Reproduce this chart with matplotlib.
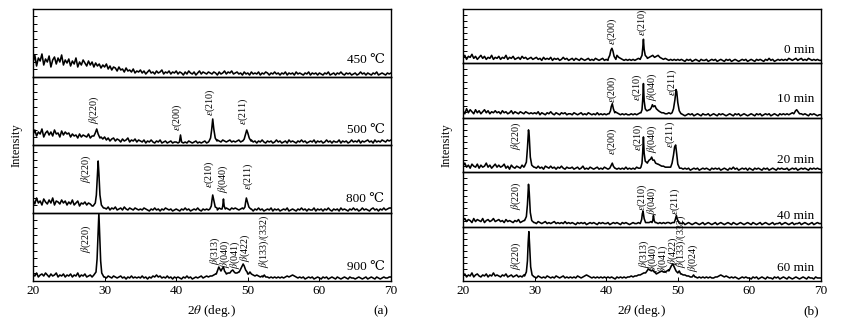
import numpy as np
import matplotlib
matplotlib.use("Agg")
import matplotlib.pyplot as plt

plt.rcParams['font.family'] = ['Liberation Serif', 'DejaVu Serif']
plt.rcParams['mathtext.fontset'] = 'stix'

# ---------------- data ----------------
x_min, x_max = 20, 70
x_grid = np.linspace(x_min, x_max, 201)   # 0.25 deg sampling of the background

# ---- (a) annealing temperature ----
bg_450 = [
    14, 22, 11, 19, 16, 23, 12, 18, 15, 21, 10, 17, 20, 13, 19, 15, 22, 12, 17, 14,
    18, 11, 16, 13, 19, 10, 15, 12, 17, 14, 11, 16, 12, 15, 10, 14, 11, 13, 9, 12,
    10, 13, 8, 11, 7, 10, 9, 6, 10, 7, 8, 5, 9, 6, 7, 5, 8, 4, 6, 5,
    7, 4, 6, 3, 5, 7, 4, 5, 3, 6, 4, 5, 7, 3, 5, 4, 6, 3, 5, 4,
    6, 3, 5, 4, 2, 5, 3, 6, 4, 3, 5, 2, 4, 6, 3, 5, 4, 3, 5, 4,
    3, 5, 4, 2, 5, 3, 4, 6, 3, 5, 4, 6, 3, 4, 5, 3, 4, 2, 5, 3,
    4, 2, 5, 3, 4, 3, 5, 2, 4, 3, 5, 4, 2, 4, 3, 5, 3, 4, 2, 4,
    3, 5, 2, 4, 3, 4, 2, 5, 3, 4, 3, 2, 4, 3, 5, 2, 4, 3, 4, 2,
    4, 3, 2, 4, 3, 5, 2, 3, 4, 2, 4, 3, 5, 3, 2, 4, 3, 4, 2, 3,
    4, 2, 3, 5, 3, 4, 2, 4, 3, 2, 4, 3, 5, 2, 3, 4, 3, 2, 4, 3,
    4]
bg_500 = [
    10, 15, 9, 13, 11, 16, 8, 12, 14, 10, 13, 9, 15, 11, 12, 8, 14, 10, 13, 11,
    12, 8, 11, 9, 10, 7, 11, 8, 10, 9, 8, 11, 7, 9, 8, 10, 9, 7, 8, 6,
    8, 5, 7, 4, 6, 7, 4, 6, 5, 3, 6, 4, 5, 7, 3, 5, 4, 6, 3, 5,
    4, 3, 5, 2, 4, 3, 5, 3, 2, 4, 3, 5, 2, 3, 4, 2, 3, 4, 2, 3,
    3, 2, 4, 3, 2, 3, 2, 4, 3, 2, 3, 4, 2, 3, 2, 3, 4, 2, 3, 3,
    3, 4, 3, 5, 4, 3, 5, 4, 3, 4, 5, 3, 4, 3, 4, 5, 3, 4, 4, 3,
    4, 3, 5, 3, 4, 2, 4, 3, 5, 3, 2, 4, 3, 4, 2, 3, 5, 3, 4, 2,
    3, 4, 2, 5, 3, 4, 3, 2, 4, 3, 5, 3, 4, 2, 3, 4, 3, 5, 2, 4,
    3, 4, 2, 3, 5, 3, 4, 2, 4, 3, 3, 5, 2, 4, 3, 4, 2, 3, 5, 3,
    4, 3, 5, 2, 4, 3, 4, 5, 3, 4, 2, 5, 3, 4, 3, 5, 4, 3, 5, 4,
    5]
bg_800 = [
    13, 9, 15, 10, 12, 8, 14, 11, 9, 13, 10, 15, 8, 12, 11, 9, 13, 10, 12, 8,
    11, 9, 13, 8, 10, 12, 7, 10, 9, 11, 8, 10, 9, 7, 10, 8, 9, 6, 5, 6,
    5, 4, 6, 3, 5, 4, 6, 3, 4, 5, 3, 6, 4, 3, 5, 4, 3, 5, 4, 3,
    4, 3, 5, 4, 3, 2, 4, 3, 5, 3, 4, 2, 4, 3, 5, 4, 3, 4, 2, 3,
    4, 3, 2, 4, 3, 5, 3, 4, 2, 3, 4, 3, 5, 3, 2, 4, 3, 4, 3, 4,
    4, 5, 4, 3, 5, 4, 3, 4, 5, 4, 3, 5, 4, 5, 4, 3, 4, 5, 4, 4,
    5, 3, 4, 2, 4, 3, 5, 3, 4, 2, 3, 4, 3, 5, 2, 4, 3, 4, 2, 3,
    4, 3, 5, 2, 3, 4, 3, 2, 4, 3, 5, 3, 4, 2, 4, 3, 3, 5, 2, 4,
    3, 4, 2, 4, 3, 5, 3, 2, 4, 3, 4, 2, 5, 3, 4, 3, 2, 4, 3, 5,
    3, 4, 2, 3, 5, 3, 4, 3, 2, 4, 5, 3, 4, 2, 4, 3, 5, 3, 4, 5,
    5]
bg_900 = [
    7, 5, 8, 4, 6, 7, 5, 8, 6, 4, 7, 5, 6, 8, 4, 6, 5, 7, 4, 6,
    5, 7, 4, 6, 5, 8, 4, 6, 5, 7, 4, 5, 6, 4, 7, 5, 6, 4, 5, 6,
    4, 3, 5, 4, 3, 5, 4, 3, 4, 5, 3, 4, 2, 4, 3, 5, 3, 4, 3, 4,
    3, 5, 3, 4, 2, 4, 3, 5, 4, 6, 4, 5, 3, 4, 3, 5, 3, 4, 2, 4,
    3, 4, 3, 2, 4, 3, 5, 3, 4, 2, 3, 4, 3, 4, 5, 3, 4, 5, 4, 5,
    5, 6, 7, 8, 8, 9, 8, 7, 7, 8, 8, 9, 9, 8, 8, 9, 10, 9, 8, 7,
    7, 6, 7, 6, 5, 6, 5, 4, 5, 4, 5, 4, 3, 4, 3, 4, 3, 4, 3, 4,
    3, 4, 5, 4, 5, 6, 5, 4, 3, 4, 3, 4, 2, 3, 4, 3, 4, 2, 3, 4,
    3, 2, 4, 3, 4, 2, 3, 4, 3, 2, 4, 3, 2, 3, 4, 3, 2, 4, 3, 3,
    2, 3, 4, 3, 2, 3, 4, 2, 3, 4, 3, 2, 4, 3, 2, 3, 4, 3, 3, 4,
    4]

# peaks: (2theta vertices, intensity vertices)
pk_450 = []
pk_500 = [
    ([28.5, 28.7, 28.9, 29.1, 29.35], [9, 12, 16, 11, 7]),
    ([40.45, 40.6, 40.75], [3, 10, 3]),
    ([44.6, 44.8, 44.95, 45.1, 45.25, 45.45, 45.7], [4, 7, 15, 26, 16, 7, 4]),
    ([49.3, 49.5, 49.7, 49.85, 50.0, 50.2, 50.45], [4, 6, 11, 15, 12, 7, 4]),
]
pk_800 = [
    ([28.4, 28.7, 28.85, 29.0, 29.1, 29.2, 29.35, 29.55, 29.85], [7, 10, 18, 38, 52, 40, 18, 8, 5]),
    ([44.7, 44.9, 45.0, 45.1, 45.25, 45.45, 45.7], [4, 7, 13, 18, 13, 6, 5]),
    ([46.4, 46.5, 46.6, 46.7, 46.85], [4, 7, 14, 7, 4]),
    ([49.4, 49.6, 49.7, 49.8, 49.95, 50.15, 50.4], [4, 6, 11, 15, 11, 6, 4]),
]
pk_900 = [
    ([28.5, 28.8, 28.95, 29.1, 29.2, 29.3, 29.45, 29.6, 29.9], [6, 9, 22, 50, 68, 48, 20, 8, 4]),
    ([45.6, 45.8, 45.95, 46.1, 46.25, 46.4, 46.6, 46.75, 46.95], [7, 11, 14, 12, 10, 12, 14, 10, 8]),
    ([47.5, 47.7, 47.9, 48.1], [8, 10, 11, 9]),
    ([48.8, 49.0, 49.2, 49.35, 49.5, 49.7, 49.9], [9, 12, 15, 17, 15, 11, 9]),
    ([50.1, 50.3, 50.5], [7, 9, 7]),
    ([52.1, 52.3, 52.5], [4, 6, 4]),
]

# ---- (b) holding time ----
bg_0 = [
    5, 8, 4, 7, 6, 9, 5, 7, 4, 6, 8, 5, 7, 4, 6, 5, 8, 4, 6, 5,
    7, 4, 6, 5, 8, 4, 6, 5, 7, 4, 5, 6, 4, 7, 5, 6, 4, 5, 6, 4,
    5, 6, 4, 5, 3, 6, 4, 5, 4, 6, 3, 5, 4, 5, 3, 4, 6, 4, 5, 3,
    4, 5, 3, 5, 4, 3, 5, 4, 3, 4, 5, 3, 4, 3, 5, 4, 3, 4, 5, 3,
    4, 3, 5, 6, 8, 9, 8, 6, 5, 4, 3, 4, 3, 4, 3, 4, 3, 4, 5, 4,
    5, 6, 5, 5, 6, 7, 8, 6, 7, 8, 6, 5, 4, 5, 4, 3, 4, 3, 4, 3,
    4, 3, 4, 3, 2, 4, 3, 4, 2, 3, 4, 3, 2, 4, 3, 3, 4, 2, 3, 4,
    3, 4, 2, 3, 4, 3, 2, 4, 3, 4, 2, 3, 4, 3, 2, 3, 4, 3, 4, 2,
    3, 4, 3, 2, 4, 3, 4, 3, 2, 4, 3, 5, 3, 4, 2, 3, 4, 3, 4, 3,
    4, 3, 5, 4, 3, 4, 5, 3, 4, 5, 3, 4, 3, 5, 4, 3, 4, 3, 4, 3,
    3]
bg_10 = [
    7, 4, 9, 5, 8, 6, 4, 8, 5, 7, 4, 6, 8, 5, 7, 4, 6, 5, 7, 5,
    6, 4, 7, 5, 6, 4, 5, 7, 4, 6, 5, 4, 6, 5, 4, 6, 5, 4, 5, 4,
    5, 4, 6, 3, 5, 4, 3, 5, 4, 6, 4, 3, 5, 4, 3, 5, 4, 5, 3, 4,
    4, 3, 5, 4, 3, 4, 5, 3, 4, 3, 5, 4, 3, 4, 3, 5, 3, 4, 3, 4,
    3, 4, 3, 5, 4, 6, 5, 4, 3, 4, 3, 4, 3, 3, 4, 3, 4, 3, 4, 5,
    5, 6, 6, 7, 8, 9, 8, 7, 7, 6, 6, 5, 5, 4, 4, 5, 4, 4, 5, 5,
    4, 3, 4, 3, 2, 3, 4, 3, 4, 2, 3, 4, 3, 2, 4, 3, 3, 4, 2, 3,
    4, 3, 2, 4, 3, 4, 3, 2, 3, 4, 3, 2, 4, 3, 4, 2, 3, 4, 3, 2,
    3, 4, 3, 2, 4, 3, 4, 2, 3, 4, 3, 4, 2, 3, 4, 3, 2, 4, 3, 4,
    3, 4, 3, 4, 5, 6, 5, 6, 5, 4, 3, 4, 3, 2, 4, 3, 4, 3, 2, 3,
    3]
bg_20 = [
    6, 9, 5, 7, 4, 8, 6, 5, 8, 4, 7, 5, 6, 9, 5, 7, 4, 6, 8, 5,
    7, 5, 6, 8, 4, 6, 3, 7, 5, 4, 6, 5, 4, 7, 5, 6, 4, 5, 4, 5,
    5, 4, 6, 4, 5, 3, 6, 5, 4, 6, 4, 5, 3, 5, 4, 6, 4, 3, 5, 4,
    4, 5, 3, 4, 5, 3, 4, 6, 3, 4, 3, 5, 4, 3, 4, 5, 3, 4, 3, 5,
    4, 3, 5, 4, 3, 4, 3, 4, 3, 4, 3, 5, 3, 4, 3, 4, 3, 5, 4, 4,
    5, 6, 7, 9, 10, 11, 10, 9, 8, 8, 7, 6, 6, 5, 5, 5, 6, 6, 6, 6,
    5, 4, 4, 3, 4, 3, 4, 2, 3, 4, 3, 4, 2, 3, 4, 3, 4, 3, 2, 4,
    3, 4, 3, 4, 2, 3, 4, 3, 2, 4, 3, 5, 3, 4, 2, 3, 4, 3, 4, 2,
    4, 3, 2, 4, 3, 4, 3, 2, 4, 3, 4, 2, 3, 4, 3, 2, 4, 3, 4, 3,
    3, 4, 2, 3, 4, 3, 4, 2, 3, 4, 3, 4, 3, 2, 4, 3, 4, 3, 4, 3,
    3]
bg_40 = [
    6, 8, 5, 7, 6, 4, 8, 5, 7, 6, 5, 8, 4, 6, 7, 5, 6, 8, 5, 6,
    7, 5, 6, 4, 7, 5, 6, 5, 4, 6, 5, 7, 4, 5, 6, 4, 5, 5, 4, 5,
    4, 3, 5, 4, 3, 4, 5, 3, 4, 3, 4, 5, 3, 4, 3, 4, 3, 5, 3, 4,
    3, 4, 3, 2, 4, 3, 4, 3, 4, 2, 3, 4, 3, 4, 3, 2, 4, 3, 4, 3,
    3, 4, 2, 3, 4, 3, 4, 3, 2, 4, 3, 4, 3, 2, 3, 4, 3, 3, 4, 3,
    4, 4, 3, 4, 4, 5, 4, 3, 4, 3, 4, 3, 4, 3, 4, 4, 3, 4, 4, 4,
    4, 3, 3, 4, 2, 3, 4, 3, 2, 3, 4, 3, 2, 3, 4, 2, 3, 4, 3, 2,
    3, 4, 2, 3, 4, 3, 2, 3, 4, 3, 2, 4, 3, 2, 3, 4, 3, 2, 3, 4,
    3, 2, 4, 3, 2, 3, 4, 2, 3, 4, 3, 2, 3, 4, 2, 3, 3, 4, 2, 3,
    4, 3, 2, 3, 4, 2, 3, 3, 4, 2, 3, 4, 3, 2, 3, 4, 2, 3, 4, 3,
    3]
bg_60 = [
    5, 7, 4, 6, 5, 8, 4, 6, 7, 5, 4, 6, 5, 7, 4, 6, 5, 8, 5, 6,
    5, 4, 6, 5, 7, 4, 5, 6, 4, 5, 6, 4, 5, 4, 6, 5, 4, 5, 4, 5,
    4, 3, 5, 4, 3, 4, 3, 5, 4, 3, 4, 3, 5, 4, 3, 4, 5, 3, 4, 3,
    4, 3, 4, 3, 5, 4, 3, 4, 5, 6, 5, 4, 3, 4, 3, 4, 3, 4, 3, 4,
    3, 4, 3, 4, 3, 2, 4, 3, 4, 3, 4, 3, 4, 4, 5, 4, 5, 5, 6, 6,
    7, 8, 8, 9, 9, 8, 8, 7, 7, 8, 8, 9, 9, 9, 10, 10, 11, 11, 10, 10,
    9, 8, 7, 6, 6, 5, 5, 4, 5, 4, 4, 3, 4, 3, 4, 3, 4, 3, 4, 3,
    3, 4, 4, 5, 6, 5, 4, 5, 4, 3, 4, 3, 4, 3, 2, 3, 4, 3, 4, 3,
    3, 2, 4, 3, 4, 2, 3, 4, 3, 2, 4, 3, 3, 2, 4, 3, 4, 2, 3, 4,
    3, 2, 4, 3, 2, 3, 4, 3, 2, 3, 4, 3, 2, 4, 3, 3, 2, 4, 3, 3,
    3]

pk_0 = [
    ([40.3, 40.5, 40.65, 40.8, 40.95, 41.1, 41.35], [5, 8, 13, 15, 12, 7, 4]),
    ([44.8, 45.0, 45.1, 45.2, 45.3, 45.45, 45.7], [5, 8, 15, 24, 14, 8, 6]),
]
pk_10 = [
    ([40.4, 40.6, 40.7, 40.85, 41.0, 41.2], [4, 7, 11, 14, 9, 5]),
    ([44.85, 45.0, 45.1, 45.2, 45.3, 45.45, 45.65], [5, 8, 18, 34, 17, 9, 7]),
    ([46.1, 46.3, 46.45, 46.6, 46.8, 47.0, 47.3], [8, 10, 13, 11, 12, 9, 7]),
    ([49.2, 49.4, 49.6, 49.75, 49.85, 50.0, 50.2, 50.45], [5, 9, 18, 28, 26, 15, 7, 4]),
    ([66.2, 66.45, 66.6, 66.8, 67.0], [4, 7, 8, 6, 4]),
]
pk_20 = [
    ([28.6, 28.85, 29.0, 29.15, 29.25, 29.4, 29.6, 29.9], [6, 10, 24, 42, 36, 15, 7, 5]),
    ([40.5, 40.7, 40.85, 41.0, 41.2], [4, 7, 9, 6, 4]),
    ([44.85, 45.0, 45.1, 45.2, 45.3, 45.45, 45.6], [5, 9, 20, 35, 19, 11, 10]),
    ([45.8, 46.0, 46.2, 46.35, 46.5, 46.7, 46.9, 47.2], [10, 12, 13, 15, 12, 12, 9, 8]),
    ([49.0, 49.2, 49.4, 49.55, 49.7, 49.85, 50.0, 50.25], [5, 9, 17, 25, 27, 18, 8, 4]),
]
pk_40 = [
    ([28.6, 28.85, 29.0, 29.15, 29.25, 29.4, 29.6, 29.9], [6, 10, 22, 42, 34, 14, 6, 4]),
    ([44.8, 44.95, 45.05, 45.15, 45.3, 45.5], [4, 7, 13, 15, 8, 4]),
    ([46.4, 46.5, 46.6, 46.7, 46.85], [4, 6, 11, 6, 4]),
    ([49.5, 49.65, 49.8, 49.95, 50.15], [4, 7, 11, 7, 4]),
]
pk_60 = [
    ([28.6, 28.85, 29.0, 29.1, 29.2, 29.3, 29.45, 29.65, 29.95], [5, 9, 20, 38, 49, 36, 14, 6, 4]),
    ([45.5, 45.7, 45.9, 46.1, 46.3, 46.5, 46.7, 46.9], [8, 10, 12, 11, 10, 11, 9, 8]),
    ([47.5, 47.8, 48.0, 48.2, 48.5, 48.7], [9, 10, 9, 9, 10, 11]),
    ([48.9, 49.1, 49.3, 49.5, 49.7], [12, 15, 17, 14, 11]),
    ([50.0, 50.2, 50.4], [8, 10, 7]),
    ([52.0, 52.2, 52.4], [4, 6, 4]),
]

# sample names
names_a = ["450 ℃", "500 ℃", "800 ℃", "900 ℃"]
names_b = ["0 min", "10 min", "20 min", "40 min", "60 min"]

# peak labels: (2theta, intensity at text start, text)
lab_450 = []
lab_500 = [(28.6, 21, r"$\beta$(220)"), (40.2, 14, r"$\varepsilon$(200)"),
           (44.8, 29, r"$\varepsilon$(210)"), (49.4, 20, r"$\varepsilon$(211)")]
lab_800 = [(27.5, 30, r"$\beta$(220)"), (44.6, 25, r"$\varepsilon$(210)"),
           (46.6, 20, r"$\beta$(040)"), (50.0, 23, r"$\varepsilon$(211)")]
lab_900 = [(27.4, 28, r"$\beta$(220)"), (45.4, 16, r"$\beta$(313)"),
           (46.8, 13, r"$\beta$(040)"), (48.2, 12, r"$\beta$(041)"),
           (49.6, 19, r"$\beta$(422)"), (52.3, 13, r"$\beta$(133)/(332)")]
lab_0 = [(40.8, 18, r"$\varepsilon$(200)"), (45.1, 27, r"$\varepsilon$(210)")]
lab_10 = [(40.8, 15, r"$\varepsilon$(200)"), (44.4, 17, r"$\varepsilon$(210)"),
          (46.5, 17, r"$\beta$(040)"), (49.2, 22, r"$\varepsilon$(211)")]
lab_20 = [(27.5, 22, r"$\beta$(220)"), (40.8, 17, r"$\varepsilon$(200)"),
          (44.5, 21, r"$\varepsilon$(210)"), (46.5, 19, r"$\beta$(040)"),
          (49.0, 24, r"$\varepsilon$(211)")]
lab_40 = [(27.5, 16, r"$\beta$(220)"), (45.0, 15, r"$\varepsilon$(210)"),
          (46.5, 12, r"$\beta$(040)"), (49.6, 12, r"$\varepsilon$(211)")]
lab_60 = [(27.5, 11, r"$\beta$(220)"), (45.3, 13, r"$\beta$(313)"),
          (46.6, 9, r"$\beta$(040)"), (47.9, 8, r"$\beta$(041)"),
          (49.3, 16, r"$\beta$(422)"), (50.5, 13, r"$\beta$(133)/(332)"),
          (52.1, 9, r"$\beta$(024)")]

name_y_a = [17, 15, 14, 14]
name_y_b = [13, 19, 12, 11, 13]

xticks = [20, 30, 40, 50, 60, 70]


def build(bg, peaks):
    x = x_grid.copy()
    y = np.asarray(bg, dtype=float)
    keep = np.ones_like(x, dtype=bool)
    for px, py in peaks:
        keep &= ~((x >= px[0]) & (x <= px[-1]))
    xs = np.concatenate([x[keep]] + [np.asarray(p[0], float) for p in peaks])
    ys = np.concatenate([y[keep]] + [np.asarray(p[1], float) for p in peaks])
    order = np.argsort(xs, kind="stable")
    return xs[order], ys[order]


W, H = 853, 325
fig = plt.figure(figsize=(W / 100, H / 100), dpi=100)

TOP = 1 - 9 / H
BOT = 1 - 281 / H

panels = [
    dict(x0=33, x1=391, ymax=68, tickstep=7.6,
         bgs=[bg_450, bg_500, bg_800, bg_900],
         pks=[pk_450, pk_500, pk_800, pk_900],
         labs=[lab_450, lab_500, lab_800, lab_900],
         names=names_a, name_y=name_y_a, tag="(a)", ylab_x=17),
    dict(x0=463, x1=821, ymax=54, tickstep=6.0,
         bgs=[bg_0, bg_10, bg_20, bg_40, bg_60],
         pks=[pk_0, pk_10, pk_20, pk_40, pk_60],
         labs=[lab_0, lab_10, lab_20, lab_40, lab_60],
         names=names_b, name_y=name_y_b, tag="(b)", ylab_x=447),
]

for P in panels:
    n = len(P["bgs"])
    h = (TOP - BOT) / n
    x0 = P["x0"] / W
    w = (P["x1"] - P["x0"]) / W
    for i in range(n):
        ax = fig.add_axes([x0, TOP - (i + 1) * h, w, h])
        ax.set_facecolor("none")
        xs, ys = build(P["bgs"][i], P["pks"][i])
        ax.plot(xs, ys, color="black", lw=1.15)
        ax.set_xlim(x_min, x_max)
        ax.set_ylim(0, P["ymax"])
        ax.set_yticks(np.arange(P["tickstep"], P["ymax"] - 1, P["tickstep"]))
        ax.tick_params(axis="y", direction="in", length=3, width=0.7,
                       labelleft=False, left=True, right=False)
        for s in ax.spines.values():
            s.set_linewidth(1.0)
        ax.set_xticks(xticks)
        if i == n - 1:
            ax.tick_params(axis="x", direction="in", length=3, width=0.7,
                           labelsize=9.5, pad=3)
        else:
            ax.tick_params(axis="x", length=0, labelbottom=False)
        for (lx, ly, lt) in P["labs"][i]:
            ax.text(lx, ly, lt, rotation=90, ha="center", va="bottom",
                    fontsize=7.2, clip_on=False)
        ax.text(69.1, P["name_y"][i], P["names"][i], ha="right", va="center",
                fontsize=9.5)
    xc = (P["x0"] + P["x1"]) / 2 / W
    fig.text(xc, 1 - 311 / H, r"2$\theta$ (deg.)", ha="center", va="center",
             fontsize=9.5)
    fig.text((P["x1"] - 10) / W, 1 - 311 / H, P["tag"], ha="center",
             va="center", fontsize=9.5)
    fig.text(P["ylab_x"] / W, (TOP + BOT) / 2, "Intensity", rotation=90,
             ha="center", va="center", fontsize=9)

fig.savefig("out.png", dpi=100, facecolor="white")
